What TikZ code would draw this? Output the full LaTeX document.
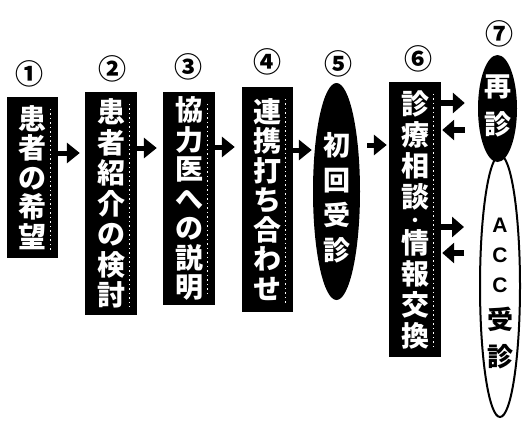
\documentclass[tikz,border=0pt]{standalone}
\usepackage{fontspec}
\newfontfamily\jp{Noto Sans CJK JP}
\newfontfamily\lib{Liberation Sans}
\usetikzlibrary{arrows.meta,shapes.geometric}
\begin{document}
\begin{tikzpicture}[x=1pt,y=-1pt,
  box/.style={rectangle, fill=black, inner sep=0pt, text=white, align=center,
    font=\jp\bfseries\fontsize{28}{29.5}\selectfont},
  blackoval/.style={ellipse, fill=black, inner sep=0pt},
  whiteoval/.style={ellipse, draw=black, line width=2pt, fill=white, inner sep=0pt},
  ovaltext/.style={inner sep=0pt, align=center, font=\jp\bfseries\fontsize{27}{35}\selectfont},
  num/.style={inner sep=0pt, font=\jp\bfseries\fontsize{28}{28}\selectfont},
  arr/.style={line width=5pt, -{Triangle[length=13pt,width=20pt]}},
  barr/.style={line width=6.5pt, -{Triangle[length=12pt,width=20pt]}},
  speck/.style={white, line width=1.2pt, dash pattern=on 1.5pt off 3pt}
]
\useasboundingbox[fill=white] (0,0) rectangle (522,421);

% boxes
\node[box, minimum width=51pt, minimum height=161pt] (b1) at (32.5,177.5) {患\\者\\の\\希\\望};
\node[box, minimum width=52pt, minimum height=223pt, font=\jp\bfseries\fontsize{28}{30.5}\selectfont] (b2) at (111,203.5) {患\\者\\紹\\介\\の\\検\\討};
\node[box, minimum width=52pt, minimum height=213pt] (b3) at (189,198.5) {協\\力\\医\\へ\\の\\説\\明};
\node[box, minimum width=51pt, minimum height=225pt] (b4) at (267.5,199.5) {連\\携\\打\\ち\\合\\わ\\せ};
\node[blackoval, minimum width=47pt, minimum height=217pt] (e5) at (336.5,191.5) {};
\node[ovaltext, text=white] (t5) at (336.5,197.5) {初\\回\\受\\診};
\node[box, minimum width=52pt, minimum height=275pt, font=\jp\bfseries\fontsize{28}{31}\selectfont] (b6) at (415,219.5)
  {診\\療\\相\\談\\[-12pt]{\fontsize{16}{16}\selectfont ・}\\[-4pt]情\\報\\交\\換};
\node[whiteoval, minimum width=40pt, minimum height=262pt] (e7b) at (500,286) {};
\node[blackoval, minimum width=39pt, minimum height=107pt] (e7a) at (497.5,108.5) {};
\node[ovaltext, text=white, font=\jp\bfseries\fontsize{27}{38}\selectfont] (t7a) at (497.5,106) {再\\診};
\node[ovaltext, text=black, font=\lib\bfseries\fontsize{21}{30}\selectfont] (t7b) at (500,294)
  {A\\C\\C\\[7pt]{\jp\fontsize{26}{26}\selectfont 受}\\[7pt]{\jp\fontsize{26}{26}\selectfont 診}};

% speckled strips
\foreach \b in {b1,b2,b3,b4,b6}
  \draw[speck] ([xshift=-8pt,yshift=-12pt]\b.north east) -- ([xshift=-8pt,yshift=8pt]\b.south east);

% numbers
\node[num] (n1) at (30,74) {①};
\node[num] (n2) at (112,69) {②};
\node[num] (n3) at (188,67) {③};
\node[num] (n4) at (267,62) {④};
\node[num] (n5) at (338,64) {⑤};
\node[num] (n6) at (418,59) {⑥};
\node[num] (n7) at (499,34) {⑦};

% main arrows
\draw[arr, shorten >=5pt] (b1.east |- 0,153) -- (b2.west |- 0,153);
\draw[arr, shorten >=6pt] (b2.east |- 0,148) -- (b3.west |- 0,148);
\draw[arr, shorten >=7pt] (b3.east |- 0,147) -- (b4.west |- 0,147);
\draw[arr, shorten >=1pt] (b4.east |- 0,150) -- (e5.west |- 0,150);
\draw[arr, shorten <=7pt, shorten >=2pt] (e5.east |- 0,145) -- (b6.west |- 0,145);

% exchange arrows
\draw[barr, shorten >=13pt] (b6.east |- 0,103) -- (e7a.west |- 0,103);
\draw[barr, shorten <=13pt, shorten >=1pt] (e7a.west |- 0,130) -- (b6.east |- 0,130);
\draw[barr, shorten >=15pt] (b6.east |- 0,227) -- (e7b.west |- 0,227);
\draw[barr, shorten <=15pt, shorten >=1pt] (e7b.west |- 0,253) -- (b6.east |- 0,253);
\end{tikzpicture}
\end{document}
